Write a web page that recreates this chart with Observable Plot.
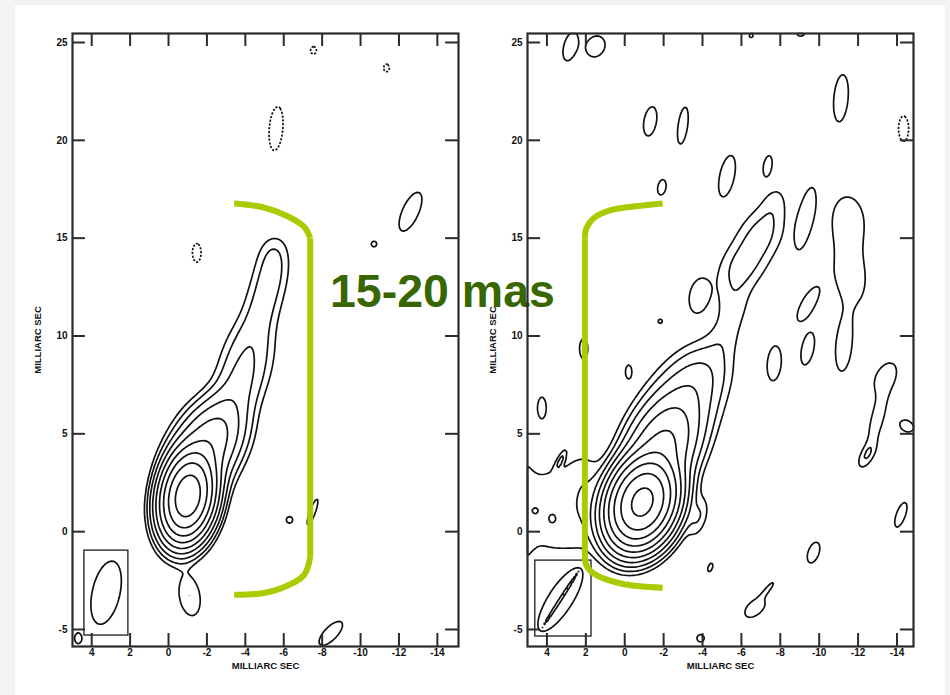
<!DOCTYPE html>
<html>
<head>
<meta charset="utf-8">
<script src="https://cdn.jsdelivr.net/npm/d3@7"></script>
<script src="https://cdn.jsdelivr.net/npm/@observablehq/plot@0.6"></script>
<style>
  html, body { margin: 0; padding: 0; background: #f3f3f3; }
  #page { position: relative; width: 950px; height: 695px; overflow: hidden; }
  #sheet { position: absolute; left: 15px; top: 5px; width: 930px; height: 690px; background: #ffffff; }
  #note { position: absolute; left: 0; top: 0; }
  #left { position: absolute; left: 0; top: 0; width: 475px; }
  #right { position: absolute; left: 475px; top: 0; width: 475px; }
  #err { position: absolute; left: 20px; top: 670px; font: 10px monospace; color: red; }
</style>
</head>
<body>
<div id="page">
  <div id="sheet"></div>
  <svg id="note" width="950" height="695">
    <text x="330" y="306.5" font-family="Liberation Sans, Arial, sans-serif" font-weight="bold" font-size="46.5" fill="#386600">15-20 mas</text>
  </svg>
  <div id="left"></div>
  <div id="right"></div>
  <div id="err"></div>
</div>
<script>
// ---------- axis ticks & labels ----------
const xTicks = [4, 2, 0, -2, -4, -6, -8, -10, -12, -14];
const yTicks = [-5, 0, 5, 10, 15, 20, 25];
const axisLabel = "MILLIARC SEC";

// contour levels (multiples of the lowest contour)
const levelsLeft = [1, 2, 4, 8, 16, 32, 64, 128, 256];
const levelsRight = [1, 2, 4, 8, 16, 32, 64, 128, 256, 512];

// ---------- LEFT MAP: Gaussian components (x, y in mas; amp in lowest-contour units; maj/min sigma in mas; pa deg) ----------
const leftCore = [
  {x: -1.0, y: 1.8, amp: 420, maj: 1.05, min: 0.63, pa: -10},
  {x: -1.5, y: 3.2, amp: 12, maj: 0.75, min: 0.85, pa: -20},
  {x: -1.9, y: 4.2, amp: 17, maj: 0.75, min: 0.85, pa: -20},
  {x: -2.4, y: 5.1, amp: 13, maj: 0.75, min: 0.85, pa: -25},
  {x: -2.9, y: 5.9, amp: 6, maj: 0.75, min: 0.8, pa: -30},
  {x: -3.35, y: 6.7, amp: 3.2, maj: 0.75, min: 0.75, pa: -25},
  {x: -3.75, y: 7.6, amp: 2.8, maj: 0.75, min: 0.75, pa: -20},
  {x: -4.0, y: 8.5, amp: 2.4, maj: 0.75, min: 0.8, pa: -15},
  {x: -4.25, y: 9.4, amp: 2.0, maj: 0.75, min: 0.8, pa: -15},
  {x: -4.5, y: 10.3, amp: 1.6, maj: 0.75, min: 0.7, pa: -15},
  {x: -4.8, y: 11.2, amp: 1.55, maj: 0.75, min: 0.62, pa: -15},
  {x: -5.05, y: 12.1, amp: 1.55, maj: 0.75, min: 0.62, pa: -15},
  {x: -5.3, y: 13.0, amp: 1.6, maj: 0.75, min: 0.6, pa: -12},
  {x: -5.45, y: 13.9, amp: 1.5, maj: 0.75, min: 0.58, pa: -10},
  {x: -5.5, y: 14.5, amp: 0.6, maj: 0.6, min: 0.5, pa: -10},
  {x: -1.1, y: -3.3, amp: 2.0, maj: 0.85, min: 0.45, pa: 10}
];
const leftNoise = [
  {x: -12.6, y: 16.35, amp: 1.85, maj: 0.97, min: 0.38, pa: -25},
  {x: -10.7, y: 14.7, amp: 1.85, maj: 0.13, min: 0.13, pa: 0},
  {x: -6.3, y: 0.6, amp: 1.85, maj: 0.15, min: 0.15, pa: 0},
  {x: -7.5, y: 1.0, amp: 1.85, maj: 0.64, min: 0.13, pa: -20},
  {x: -8.45, y: -5.2, amp: 1.85, maj: 0.72, min: 0.3, pa: -45},
  {x: 4.7, y: -5.45, amp: 1.85, maj: 0.25, min: 0.17, pa: 0}
];
const leftNegative = [
  {x: -5.6, y: 20.6, amp: 2, maj: 0.96, min: 0.3, pa: -5},
  {x: -1.47, y: 14.25, amp: 2, maj: 0.41, min: 0.19, pa: 0},
  {x: -7.55, y: 24.6, amp: 2, maj: 0.17, min: 0.13, pa: 0},
  {x: -11.35, y: 23.7, amp: 2, maj: 0.17, min: 0.13, pa: 0}
];
const leftBeams = [{x: 3.25, y: -3.12, maj: 1.65, min: 0.72, pa: -13}];
const leftBeamBox = [{x1: 4.38, x2: 2.09, y1: -0.97, y2: -5.31}];
const leftBracket = [
  {part: "top", x: -3.42, y: 16.77}, {part: "top", x: -4.91, y: 16.58}, {part: "top", x: -6.2, y: 16.12},
  {part: "top", x: -7.06, y: 15.58}, {part: "top", x: -7.38, y: 15.0},
  {part: "mid", x: -7.38, y: 15.0}, {part: "mid", x: -7.38, y: -1.3},
  {part: "bot", x: -7.38, y: -1.3}, {part: "bot", x: -7.04, y: -2.24}, {part: "bot", x: -5.85, y: -2.9},
  {part: "bot", x: -4.8, y: -3.16}, {part: "bot", x: -3.42, y: -3.23}
];

// ---------- RIGHT MAP ----------
const rightCore = [
  {x: -0.9, y: 1.5, amp: 645, maj: 1.07, min: 0.76, pa: -20},
  {x: -1.9, y: 4.3, amp: 35, maj: 1.3, min: 0.9, pa: -25},
  {x: -2.9, y: 6.4, amp: 7, maj: 1.3, min: 1.0, pa: -30},
  {x: -3.9, y: 8.1, amp: 3.0, maj: 1.1, min: 0.9, pa: -40},
  {x: -5.1, y: 9.9, amp: 1.1, maj: 0.9, min: 0.6, pa: -20},
  {x: -5.6, y: 11.6, amp: 1.3, maj: 0.9, min: 0.6, pa: -10},
  {x: -6.0, y: 13.5, amp: 2.3, maj: 1.0, min: 0.75, pa: -35},
  {x: -7.0, y: 15.2, amp: 2.3, maj: 1.0, min: 0.75, pa: -30},
  {x: -7.7, y: 16.8, amp: 1.1, maj: 0.8, min: 0.5, pa: -15}
];
const rightWeak = [
  {x: 3.6, y: 1.1, amp: 1.5, maj: 2.1, min: 1.6, pa: 0},
  {x: 5.4, y: 1.0, amp: 1.0, maj: 2.3, min: 0.5, pa: 0},
  {x: 2.2, y: 1.0, amp: 0.7, maj: 1.2, min: 0.6, pa: 0},
  {x: 2.0, y: 2.8, amp: 0.8, maj: 0.9, min: 0.6, pa: 0},
  {x: 3.74, y: 0.65, amp: 0.75, maj: 0.25, min: 0.2, pa: 0}
];
const rightNoise = [
  {x: -1.31, y: 20.97, amp: 1.85, maj: 0.68, min: 0.29, pa: -10},
  {x: -2.99, y: 20.75, amp: 1.85, maj: 0.86, min: 0.22, pa: -8},
  {x: -5.26, y: 18.17, amp: 1.85, maj: 0.97, min: 0.34, pa: -12},
  {x: -7.35, y: 18.7, amp: 1.85, maj: 0.47, min: 0.19, pa: -10},
  {x: -1.91, y: 17.6, amp: 1.85, maj: 0.36, min: 0.19, pa: -10},
  {x: -11.12, y: 22.15, amp: 1.85, maj: 1.09, min: 0.33, pa: -5},
  {x: -9.29, y: 16.0, amp: 1.85, maj: 1.4, min: 0.34, pa: -12},
  {x: -11.5, y: 16.0, amp: 1.5, maj: 1.2, min: 0.8, pa: 5},
  {x: -11.6, y: 13.0, amp: 1.5, maj: 1.4, min: 0.8, pa: 8},
  {x: -9.41, y: 11.6, amp: 1.85, maj: 0.85, min: 0.3, pa: -29},
  {x: -3.8, y: 12.04, amp: 1.85, maj: 0.76, min: 0.42, pa: -10},
  {x: -1.83, y: 10.75, amp: 1.85, maj: 0.1, min: 0.1, pa: 0},
  {x: -9.41, y: 9.35, amp: 1.85, maj: 0.76, min: 0.28, pa: -12},
  {x: -11.26, y: 9.46, amp: 1.85, maj: 1.14, min: 0.36, pa: -5},
  {x: -7.69, y: 8.6, amp: 1.85, maj: 0.8, min: 0.32, pa: -5},
  {x: -0.2, y: 8.17, amp: 1.85, maj: 0.31, min: 0.14, pa: 0},
  {x: 2.11, y: 9.35, amp: 1.85, maj: 0.47, min: 0.19, pa: 0},
  {x: 4.26, y: 6.34, amp: 1.85, maj: 0.47, min: 0.19, pa: 0},
  {x: -13.4, y: 7.9, amp: 1.6, maj: 0.76, min: 0.47, pa: -30},
  {x: -13.0, y: 5.8, amp: 1.85, maj: 1.1, min: 0.27, pa: -15},
  {x: -12.45, y: 3.9, amp: 1.85, maj: 0.55, min: 0.25, pa: -30},
  {x: -14.5, y: 5.4, amp: 1.85, maj: 0.34, min: 0.25, pa: 60},
  {x: -14.2, y: 0.86, amp: 1.85, maj: 0.6, min: 0.21, pa: -20},
  {x: -9.71, y: -1.07, amp: 1.85, maj: 0.5, min: 0.25, pa: -20},
  {x: -3.8, y: 0.75, amp: 1.85, maj: 0.72, min: 0.32, pa: -15},
  {x: -4.4, y: -1.83, amp: 1.85, maj: 0.21, min: 0.1, pa: -20},
  {x: -6.7, y: -3.9, amp: 1.85, maj: 0.55, min: 0.32, pa: -50},
  {x: -7.35, y: -2.95, amp: 1.6, maj: 0.47, min: 0.1, pa: -40},
  {x: -3.9, y: -5.45, amp: 1.85, maj: 0.17, min: 0.17, pa: 0},
  {x: 3.31, y: 3.6, amp: 1.85, maj: 0.38, min: 0.1, pa: -25},
  {x: 2.8, y: 24.8, amp: 1.85, maj: 0.68, min: 0.3, pa: -15},
  {x: 1.5, y: 24.8, amp: 1.85, maj: 0.5, min: 0.42, pa: -30},
  {x: -9.05, y: 25.55, amp: 1.85, maj: 0.21, min: 0.21, pa: 0},
  {x: -6.5, y: 25.35, amp: 1.85, maj: 0.09, min: 0.09, pa: 0},
  {x: 4.6, y: 1.07, amp: 1.85, maj: 0.09, min: 0.09, pa: 0}
];
const rightNegative = [
  {x: -14.34, y: 20.6, amp: 2, maj: 0.55, min: 0.22, pa: 0}
];
const rightBeams = [
  {x: 3.31, y: -3.47, maj: 1.9, min: 0.62, pa: -33},
  {x: 3.3, y: -3.45, maj: 1.8, min: 0.07, pa: -33}
];
const rightBeamBox = [{x1: 4.6, x2: 1.71, y1: -1.48, y2: -5.36}];
const rightBracket = [
  {part: "top", x: -1.95, y: 16.77}, {part: "top", x: -0.57, y: 16.63}, {part: "top", x: 0.72, y: 16.43},
  {part: "top", x: 1.6, y: 16.02}, {part: "top", x: 1.97, y: 15.51}, {part: "top", x: 2.05, y: 15.0},
  {part: "mid", x: 2.05, y: 15.0}, {part: "mid", x: 2.05, y: -1.25},
  {part: "bot", x: 2.05, y: -1.25}, {part: "bot", x: 1.97, y: -1.73}, {part: "bot", x: 1.6, y: -2.14},
  {part: "bot", x: 0.21, y: -2.65}, {part: "bot", x: -1.95, y: -2.87}
];

// ---------- helpers ----------
function prep(comps) {
  return comps.map(c => {
    const t = c.pa * Math.PI / 180;
    return {...c, s: Math.sin(t), c: Math.cos(t), r: 6 * Math.max(c.maj, c.min)};
  });
}
function field(comps) {
  const P = prep(comps);
  return (x, y) => {
    let v = 0;
    for (const g of P) {
      const dx = x - g.x, dy = y - g.y;
      if (dx > g.r || dx < -g.r || dy > g.r || dy < -g.r) continue;
      const along = dx * g.s + dy * g.c;
      const across = dx * g.c - dy * g.s;
      v += (g.amp ?? 1) * Math.exp(-0.5 * (across * across / (g.min * g.min) + along * along / (g.maj * g.maj)));
    }
    return v;
  };
}
const fmt = d => (d < 0 ? "-" + Math.abs(d) : String(d));
const ink = "#2b2b2b";

function panel({xDomain, yDomain, marginLeft, marginRight, positive, negative, beams, box, bracket, levels}) {
  const tx = 13 / 19.3, ty = 13 / 19.6;
  const bounds = {x1: xDomain[0], x2: xDomain[1], y1: yDomain[0], y2: yDomain[1]};
  const cont = (comps, thresholds, extra = {}) =>
    Plot.contour({...bounds, value: field(comps), thresholds, stroke: "#111", strokeWidth: 1.7, fill: "none", ...extra});
  return Plot.plot({
    width: 475, height: 695,
    marginTop: 33, marginBottom: 49, marginLeft, marginRight,
    x: {domain: xDomain},
    y: {domain: yDomain},
    style: {background: "transparent", fontFamily: "Liberation Sans, Arial, sans-serif", fontSize: "10px", fontWeight: "bold", color: "#111"},
    marks: [
      cont(positive, levels),
      cont(negative, [1], {strokeDasharray: "2.2,1.6"}),
      ...beams.map(b => cont([b], [Math.exp(-0.5)])),
      Plot.rect(box, {x1: "x1", x2: "x2", y1: "y1", y2: "y2", fill: "none", stroke: ink, strokeWidth: 1.4}),
      Plot.frame({stroke: ink, strokeWidth: 2.2}),
      Plot.ruleX(xTicks, {x: d => d, y1: yDomain[0], y2: yDomain[0] + ty, stroke: ink, strokeWidth: 2}),
      Plot.ruleX(xTicks, {x: d => d, y1: yDomain[1] - ty, y2: yDomain[1], stroke: ink, strokeWidth: 2}),
      Plot.ruleY(yTicks, {y: d => d, x1: xDomain[0], x2: xDomain[0] - tx, stroke: ink, strokeWidth: 2}),
      Plot.ruleY(yTicks, {y: d => d, x1: xDomain[1] + tx, x2: xDomain[1], stroke: ink, strokeWidth: 2}),
      Plot.axisX(xTicks, {anchor: "bottom", tickSize: 0, tickPadding: 2, tickFormat: fmt, label: null, fontSize: 10}),
      Plot.axisY(yTicks, {anchor: "left", tickSize: 0, tickPadding: 5, tickFormat: fmt, label: null, fontSize: 10}),
      Plot.text([axisLabel], {frameAnchor: "bottom", dy: 19, lineAnchor: "middle", textAnchor: "middle", text: d => d, fontSize: 9.5, fontWeight: "bold", fill: "#111"}),
      Plot.text([axisLabel], {frameAnchor: "left", rotate: -90, dx: -35, lineAnchor: "middle", textAnchor: "middle", text: d => d, fontSize: 9.5, fontWeight: "bold", fill: "#111"}),
      Plot.line(bracket, {x: "x", y: "y", z: "part", curve: "catmull-rom", stroke: "#a9cc00", strokeWidth: 6, strokeLinecap: "butt", strokeLinejoin: "round"})
    ]
  });
}

try {
  document.getElementById("left").append(panel({
    xDomain: [5, -15.1], yDomain: [-5.87, 25.46], marginLeft: 72, marginRight: 17,
    positive: leftCore.concat(leftNoise), negative: leftNegative, beams: leftBeams,
    box: leftBeamBox, bracket: leftBracket, levels: levelsLeft
  }));
  document.getElementById("right").append(panel({
    xDomain: [5, -14.85], yDomain: [-5.87, 25.46], marginLeft: 52, marginRight: 37,
    positive: rightCore.concat(rightWeak, rightNoise), negative: rightNegative, beams: rightBeams,
    box: rightBeamBox, bracket: rightBracket, levels: levelsRight
  }));
} catch (e) {
  document.getElementById("err").textContent = String(e && e.stack || e).slice(0, 300);
  throw e;
}
</script>
</body>
</html>
